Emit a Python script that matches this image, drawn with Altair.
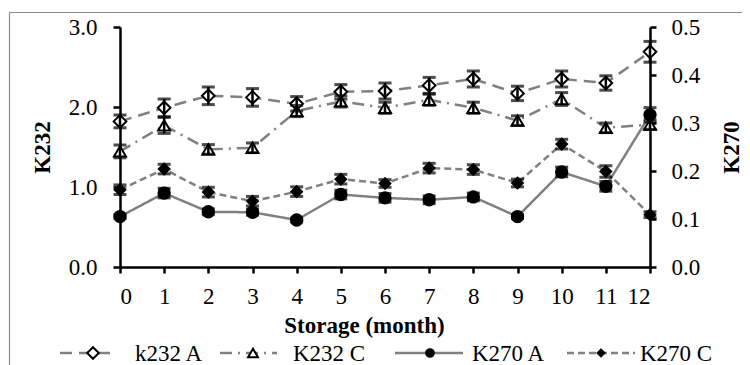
import altair as alt
import pandas as pd

months = list(range(13))
k232_a = [1.82, 1.99, 2.14, 2.12, 2.04, 2.19, 2.20, 2.27, 2.35, 2.17, 2.35, 2.30, 2.69]
k232_a_err = [0.08, 0.11, 0.11, 0.11, 0.09, 0.09, 0.10, 0.10, 0.10, 0.09, 0.10, 0.09, 0.13]
k232_c = [1.445, 1.77, 1.47, 1.49, 1.95, 2.07, 1.99, 2.09, 1.99, 1.83, 2.10, 1.74, 1.78]
k232_c_err = [0.08, 0.10, 0.06, 0.06, 0.07, 0.07, 0.07, 0.07, 0.07, 0.06, 0.08, 0.06, 0.06]
k270_a = [0.105, 0.154, 0.115, 0.114, 0.098, 0.151, 0.144, 0.140, 0.146, 0.105, 0.198, 0.168, 0.317]
k270_a_err = [0.004, 0.010, 0.006, 0.006, 0.004, 0.009, 0.009, 0.008, 0.008, 0.004, 0.010, 0.010, 0.015]
k270_c = [0.161, 0.204, 0.156, 0.137, 0.157, 0.183, 0.174, 0.206, 0.203, 0.175, 0.256, 0.199, 0.109]
k270_c_err = [0.010, 0.010, 0.010, 0.010, 0.010, 0.010, 0.008, 0.010, 0.010, 0.008, 0.010, 0.012, 0.006]

series_names = ["k232 A", "K232 C", "K270 A", "K270 C"]
left_ticks = [0, 1, 2, 3]
right_ticks = [0, 0.1, 0.2, 0.3, 0.4, 0.5]

FONT = "Liberation Serif"
GRAY = "#808080"
FS = 23


def frame(name, vals, errs):
    return pd.DataFrame({
        "series": name,
        "month": months,
        "value": vals,
        "lo": [v - e for v, e in zip(vals, errs)],
        "hi": [v + e for v, e in zip(vals, errs)],
    })


left_df = pd.concat([frame("k232 A", k232_a, k232_a_err), frame("K232 C", k232_c, k232_c_err)])
right_df = pd.concat([frame("K270 A", k270_a, k270_a_err), frame("K270 C", k270_c, k270_c_err)])

dash_scale = alt.Scale(domain=series_names, range=[[12, 7], [12, 6, 2, 6], [1, 0], [7, 4]])
shape_scale = alt.Scale(domain=series_names, range=["diamond", "triangle-up", "circle", "diamond"])
fill_scale = alt.Scale(domain=series_names, range=["white", "white", "black", "black"])
size_scale = alt.Scale(domain=series_names, range=[160, 115, 70, 55])

x_enc = alt.X("month:Q", scale=alt.Scale(domain=[0, 12], nice=False),
              axis=alt.Axis(values=months, title="Storage (month)", titleFontWeight="bold",
                            titleX=244, titleY=58, titleBaseline="middle",
                            labelPadding=12, tickSize=6, format="d"))


def y_enc(field, side):
    if side == "left":
        return alt.Y(f"{field}:Q", scale=alt.Scale(domain=[0, 3], nice=False),
                     axis=alt.Axis(values=left_ticks, format=".1f", title="K232", orient="left",
                                   titleAngle=270, titleX=-78, titleY=120, titleBaseline="middle",
                                   titleAlign="center", titleFontWeight="bold",
                                   labelPadding=16, tickSize=7))
    return alt.Y(f"{field}:Q", scale=alt.Scale(domain=[0, 0.5], nice=False),
                 axis=alt.Axis(values=right_ticks, format=".1f", title="K270", orient="right",
                               titleAngle=270, titleX=81, titleY=120, titleBaseline="middle",
                               titleAlign="center", titleFontWeight="bold",
                               labelPadding=15, tickSize=6))


def group(df, side):
    base = alt.Chart(df)
    line = base.mark_line(color=GRAY, strokeWidth=2.5).encode(
        x=x_enc, y=y_enc("value", side),
        strokeDash=alt.StrokeDash("series:N", scale=dash_scale, legend=None),
        detail="series:N")
    pts = base.mark_point(stroke="black", strokeWidth=2, opacity=1, fillOpacity=1).encode(
        x=x_enc, y=y_enc("value", side),
        shape=alt.Shape("series:N", scale=shape_scale, legend=None),
        fill=alt.Fill("series:N", scale=fill_scale, legend=None),
        size=alt.Size("series:N", scale=size_scale, legend=None))
    rule = base.mark_rule(color="black", strokeWidth=2.5).encode(
        x=x_enc, y=y_enc("lo", side), y2="hi:Q")
    cap_lo = base.mark_tick(orient="horizontal", color="black", size=13, thickness=3).encode(
        x=x_enc, y=y_enc("lo", side))
    cap_hi = base.mark_tick(orient="horizontal", color="black", size=13, thickness=3).encode(
        x=x_enc, y=y_enc("hi", side))
    return alt.layer(line, pts, rule, cap_lo, cap_hi)


one = pd.DataFrame({"k": [0]})

border = alt.Chart(one).mark_rect(fill=None, stroke="#8c8c8c", strokeWidth=1.2).encode(
    x=alt.value(-110.5), x2=alt.value(900), y=alt.value(-14.5), y2=alt.value(500))

# legend (layout positions in plot coordinates)
LY = 326
legend_items = [
    # name, line start, line end, marker x, text x
    ("k232 A", -60, -5, -27, 15),
    ("K232 C", 100, 157, 133, 173),
    ("K270 A", 275, 343, 310, 352),
    ("K270 C", 447, 515, 481, 520),
]
dash_map = dict(zip(series_names, dash_scale.range))
shape_map = dict(zip(series_names, shape_scale.range))
fill_map = dict(zip(series_names, fill_scale.range))
size_map = dict(zip(series_names, size_scale.range))

legend_layers = []
for name, x0, x1, mx, tx in legend_items:
    legend_layers.append(alt.Chart(one).mark_rule(color=GRAY, strokeWidth=2.5, strokeDash=dash_map[name]).encode(
        x=alt.value(x0), x2=alt.value(x1), y=alt.value(LY)))
    legend_layers.append(alt.Chart(one).mark_point(
        shape=shape_map[name], fill=fill_map[name], stroke="black", strokeWidth=2,
        size=size_map[name] * 0.85, opacity=1, fillOpacity=1).encode(
        x=alt.value(mx), y=alt.value(LY)))
    legend_layers.append(alt.Chart(one).mark_text(
        text=name, font=FONT, fontSize=FS, align="left", baseline="middle", color="black").encode(
        x=alt.value(tx), y=alt.value(LY + 1)))

chart = alt.layer(
    border,
    alt.layer(group(left_df, "left"), group(right_df, "right")).resolve_scale(y="independent"),
    *legend_layers,
).properties(
    width=530, height=240,
    padding={"left": 112, "top": 19, "right": 92, "bottom": 98},
    autosize=alt.AutoSizeParams(type="none"),
    background="white",
).configure_view(stroke=None).configure_axis(
    grid=False, domainColor="black", domainWidth=2.5, tickColor="black", tickWidth=2.5,
    labelFont=FONT, labelFontSize=FS, labelColor="black",
    titleFont=FONT, titleFontSize=FS, titleColor="black",
)

chart.save("out.html", embed_options={"renderer": "svg", "actions": False})
